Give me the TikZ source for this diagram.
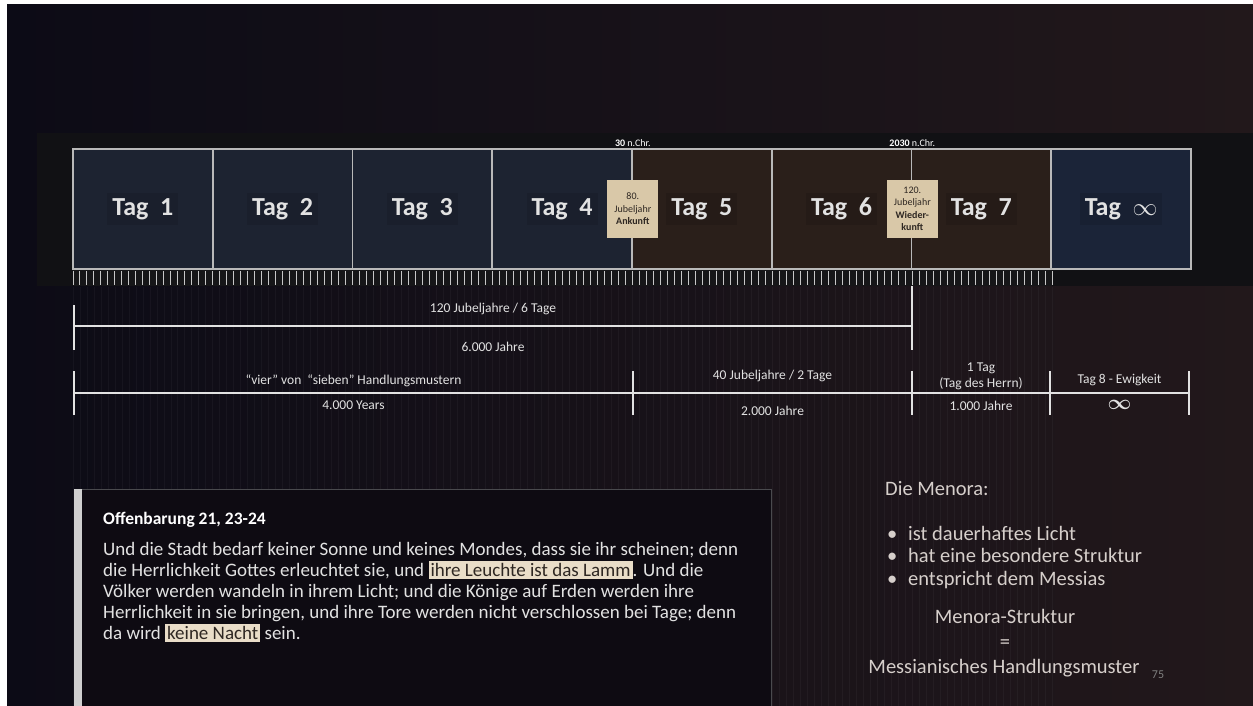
\documentclass[tikz,border=0pt]{standalone}
\usepackage{amsmath}
\usepackage{fontspec}
\setmainfont{Carlito}
\usetikzlibrary{positioning,calc}
\definecolor{cBgLeft}{HTML}{0C0B16}
\definecolor{cBgRight}{HTML}{22181B}
\definecolor{cBand}{HTML}{111114}
\definecolor{cBlueDay}{HTML}{1D2331}
\definecolor{cBrownDay}{HTML}{2A1F1A}
\definecolor{cEternal}{HTML}{1B2438}
\definecolor{cFrame}{HTML}{B9B9B9}
\definecolor{cStrip}{HTML}{161618}
\definecolor{cBeige}{HTML}{D9C8A8}
\definecolor{cHighlight}{HTML}{E9DDC8}
\definecolor{cInk}{HTML}{2E2722}
\definecolor{cText}{HTML}{E2E2E2}
\definecolor{cMenora}{HTML}{D6CFCB}
\definecolor{cBox}{HTML}{0E0B12}
\definecolor{cBoxLine}{HTML}{4A4A4E}
\definecolor{cBar}{HTML}{CFCFCF}
\newcommand{\versemark}[1]{{\setlength{\fboxsep}{2pt}\colorbox{cHighlight}{\textcolor{cInk}{#1}}}}
\newcommand{\versefont}{\fontsize{19}{21}\selectfont\setlength{\lineskiplimit}{-20pt}}

\begin{document}
\begin{tikzpicture}[x=1pt, y=-1pt,
    daycell/.style={draw=cFrame, line width=1.6pt, minimum width=139.75pt, minimum height=120pt, inner sep=0pt},
    daylabel/.style={fill=black, fill opacity=0.1, text opacity=1, text=cText, inner sep=5pt, font=\fontsize{26}{28}\selectfont\bfseries},
    jubelbox/.style={fill=cBeige, minimum width=51pt, minimum height=58pt, inner sep=1pt, align=center, text=cInk, font=\fontsize{10}{12.5}\selectfont},
    datelabel/.style={text=white, inner sep=0pt, font=\fontsize{10}{11}\selectfont},
    tickmark/.style={draw=cFrame!80, line width=1pt},
    spanline/.style={draw=cText, line width=2.4pt},
    spanend/.style={draw=cText, line width=2pt},
    spantext/.style={text=cText, inner sep=0pt, align=center, font=\fontsize{13.5}{16}\selectfont},
    menotext/.style={text=cMenora, inner sep=0pt, text height=14pt, text depth=4pt, font=\fontsize{20.5}{24}\selectfont}]
\useasboundingbox (0,0) rectangle (1253,706);

% Slide background
\fill[white] (0,0) rectangle (1253,706);
\shade[left color=cBgLeft, right color=cBgRight] (7,5) rectangle (1253,706);
\fill[cBand] (37,133) rectangle (1253,286);

% Day cells
\foreach \i/\c/\l in {1/cBlueDay/1, 2/cBlueDay/2, 3/cBlueDay/3, 4/cBlueDay/4, 5/cBrownDay/5, 6/cBrownDay/6, 7/cBrownDay/7, 8/cEternal/$\infty$} {
    \node[daycell, fill=\c] (tag\i) at ({73+139.75*(\i-0.5)},209) {};
    \node[daylabel] at (tag\i) {Tag\hspace{0.45em}\l};
}

% Jubilee markers
\node[jubelbox] (ankunft) at (tag4.east) {80.\\Jubeljahr\\\textbf{Ankunft}};
\node[jubelbox] (wiederkunft) at (tag6.east) {120.\\Jubeljahr\\\textbf{Wieder-}\\\textbf{kunft}};
\node[datelabel, above=1.5pt of tag4.north east] {\textbf{30} n.Chr.};
\node[datelabel, above=1.5pt of tag6.north east] {\textbf{2030} n.Chr.};

% Jubilee ticks
\fill[cStrip] (73,270) rectangle (1052,286);
\foreach \k in {0,...,140} {
    \draw[tickmark] ({73+\k*6.9929},271) -- ++(0,14);
}
\foreach \k in {0,...,140} {
    \draw[white, opacity=0.035, line width=0.8pt] ({73+\k*6.9929},287) -- ++(0,419);
}

% 6 days span
\coordinate (sixL) at (74,326);
\coordinate (sixR) at (912,326);
\draw[spanline] (sixL) -- (sixR);
\draw[spanend] ($(sixL)+(0,-21)$) -- ($(sixL)+(0,24)$);
\draw[spanend] ($(sixR)+(0,-40)$) -- ($(sixR)+(0,24)$);
\node[spantext] (sixTop) at ($(sixL)!0.5!(sixR)+(0,-17)$) {120 Jubeljahre / 6 Tage};
\node[spantext] (sixBot) at ($(sixL)!0.5!(sixR)+(0,21)$) {6.000 Jahre};

% Split spans
\foreach \n/\x in {a/74, b/633, c/912, d/1050, e/1189} {
    \coordinate (row\n) at (\x,393);
}
\draw[spanline] (rowa) -- (rowe);
\foreach \n in {a,b,c,d,e} {
    \draw[spanend] ($(row\n)+(0,-22)$) -- ($(row\n)+(0,22)$);
}
\node[spantext] (fourTop) at ($(rowa)!0.5!(rowb)+(0,-12)$) {“vier” von \ “sieben” Handlungsmustern};
\node[spantext] (fourBot) at ($(rowa)!0.5!(rowb)+(0,12)$) {4.000 Years};
\node[spantext] (twoTop) at ($(rowb)!0.5!(rowc)+(0,-17)$) {40 Jubeljahre / 2 Tage};
\node[spantext] (twoBot) at ($(rowb)!0.5!(rowc)+(0,18)$) {2.000 Jahre};
\node[spantext] (oneTop) at ($(rowc)!0.5!(rowd)+(0,-17)$) {1 Tag\\(Tag des Herrn)};
\node[spantext] (oneBot) at ($(rowc)!0.5!(rowd)+(0,13)$) {1.000 Jahre};
\node[spantext] (eightTop) at ($(rowd)!0.5!(rowe)+(0,-13)$) {Tag 8 - Ewigkeit};
\node[text=cText, inner sep=0pt, font=\fontsize{22}{22}\selectfont] (eightBot) at ($(rowd)!0.5!(rowe)+(0,12)$) {$\boldsymbol{\infty}$};

% Verse box
\fill[cBox] (74,489) rectangle (771,706);
\draw[cBoxLine, line width=1pt] (74,489) -- (771,489) -- (771,706);
\fill[cBar] (74,489) rectangle (82,706);
\node[anchor=west, inner sep=0pt, text=white, font=\fontsize{17.5}{20}\selectfont\bfseries] (verseHead) at (103,520) {Offenbarung 21, 23-24};
\node[anchor=north west, inner sep=0pt, text=cText, align=left, font=\versefont] (verseBody) at (103,542) {%
    Und die Stadt bedarf keiner Sonne und keines Mondes, dass sie ihr scheinen; denn\\
    die Herrlichkeit Gottes erleuchtet sie, und \versemark{ihre Leuchte ist das Lamm}. Und die\\
    Völker werden wandeln in ihrem Licht; und die Könige auf Erden werden ihre\\
    Herrlichkeit in sie bringen, und ihre Tore werden nicht verschlossen bei Tage; denn\\
    da wird \versemark{keine Nacht} sein.};

% Menora
\node[menotext, anchor=west] (menoHead) at (885,490) {Die Menora:};
\foreach \t [count=\j] in {ist dauerhaftes Licht, hat eine besondere Struktur, entspricht dem Messias} {
    \node[menotext, anchor=west] (bullet\j) at (887,{535+22.5*(\j-1)}) {\textbullet};
    \node[menotext, anchor=west] (item\j) at (908,{535+22.5*(\j-1)}) {\t};
}
\node[menotext] (menoStruct) at (1005,618) {Menora-Struktur};
\node[menotext] (menoEq) at (1005,643) {=};
\node[menotext] (menoMess) at (1004,668) {Messianisches Handlungsmuster};
\node[text=gray, inner sep=0pt, font=\fontsize{12}{13}\selectfont] (pageNo) at (1158,675) {75};

\end{tikzpicture}
\end{document}
